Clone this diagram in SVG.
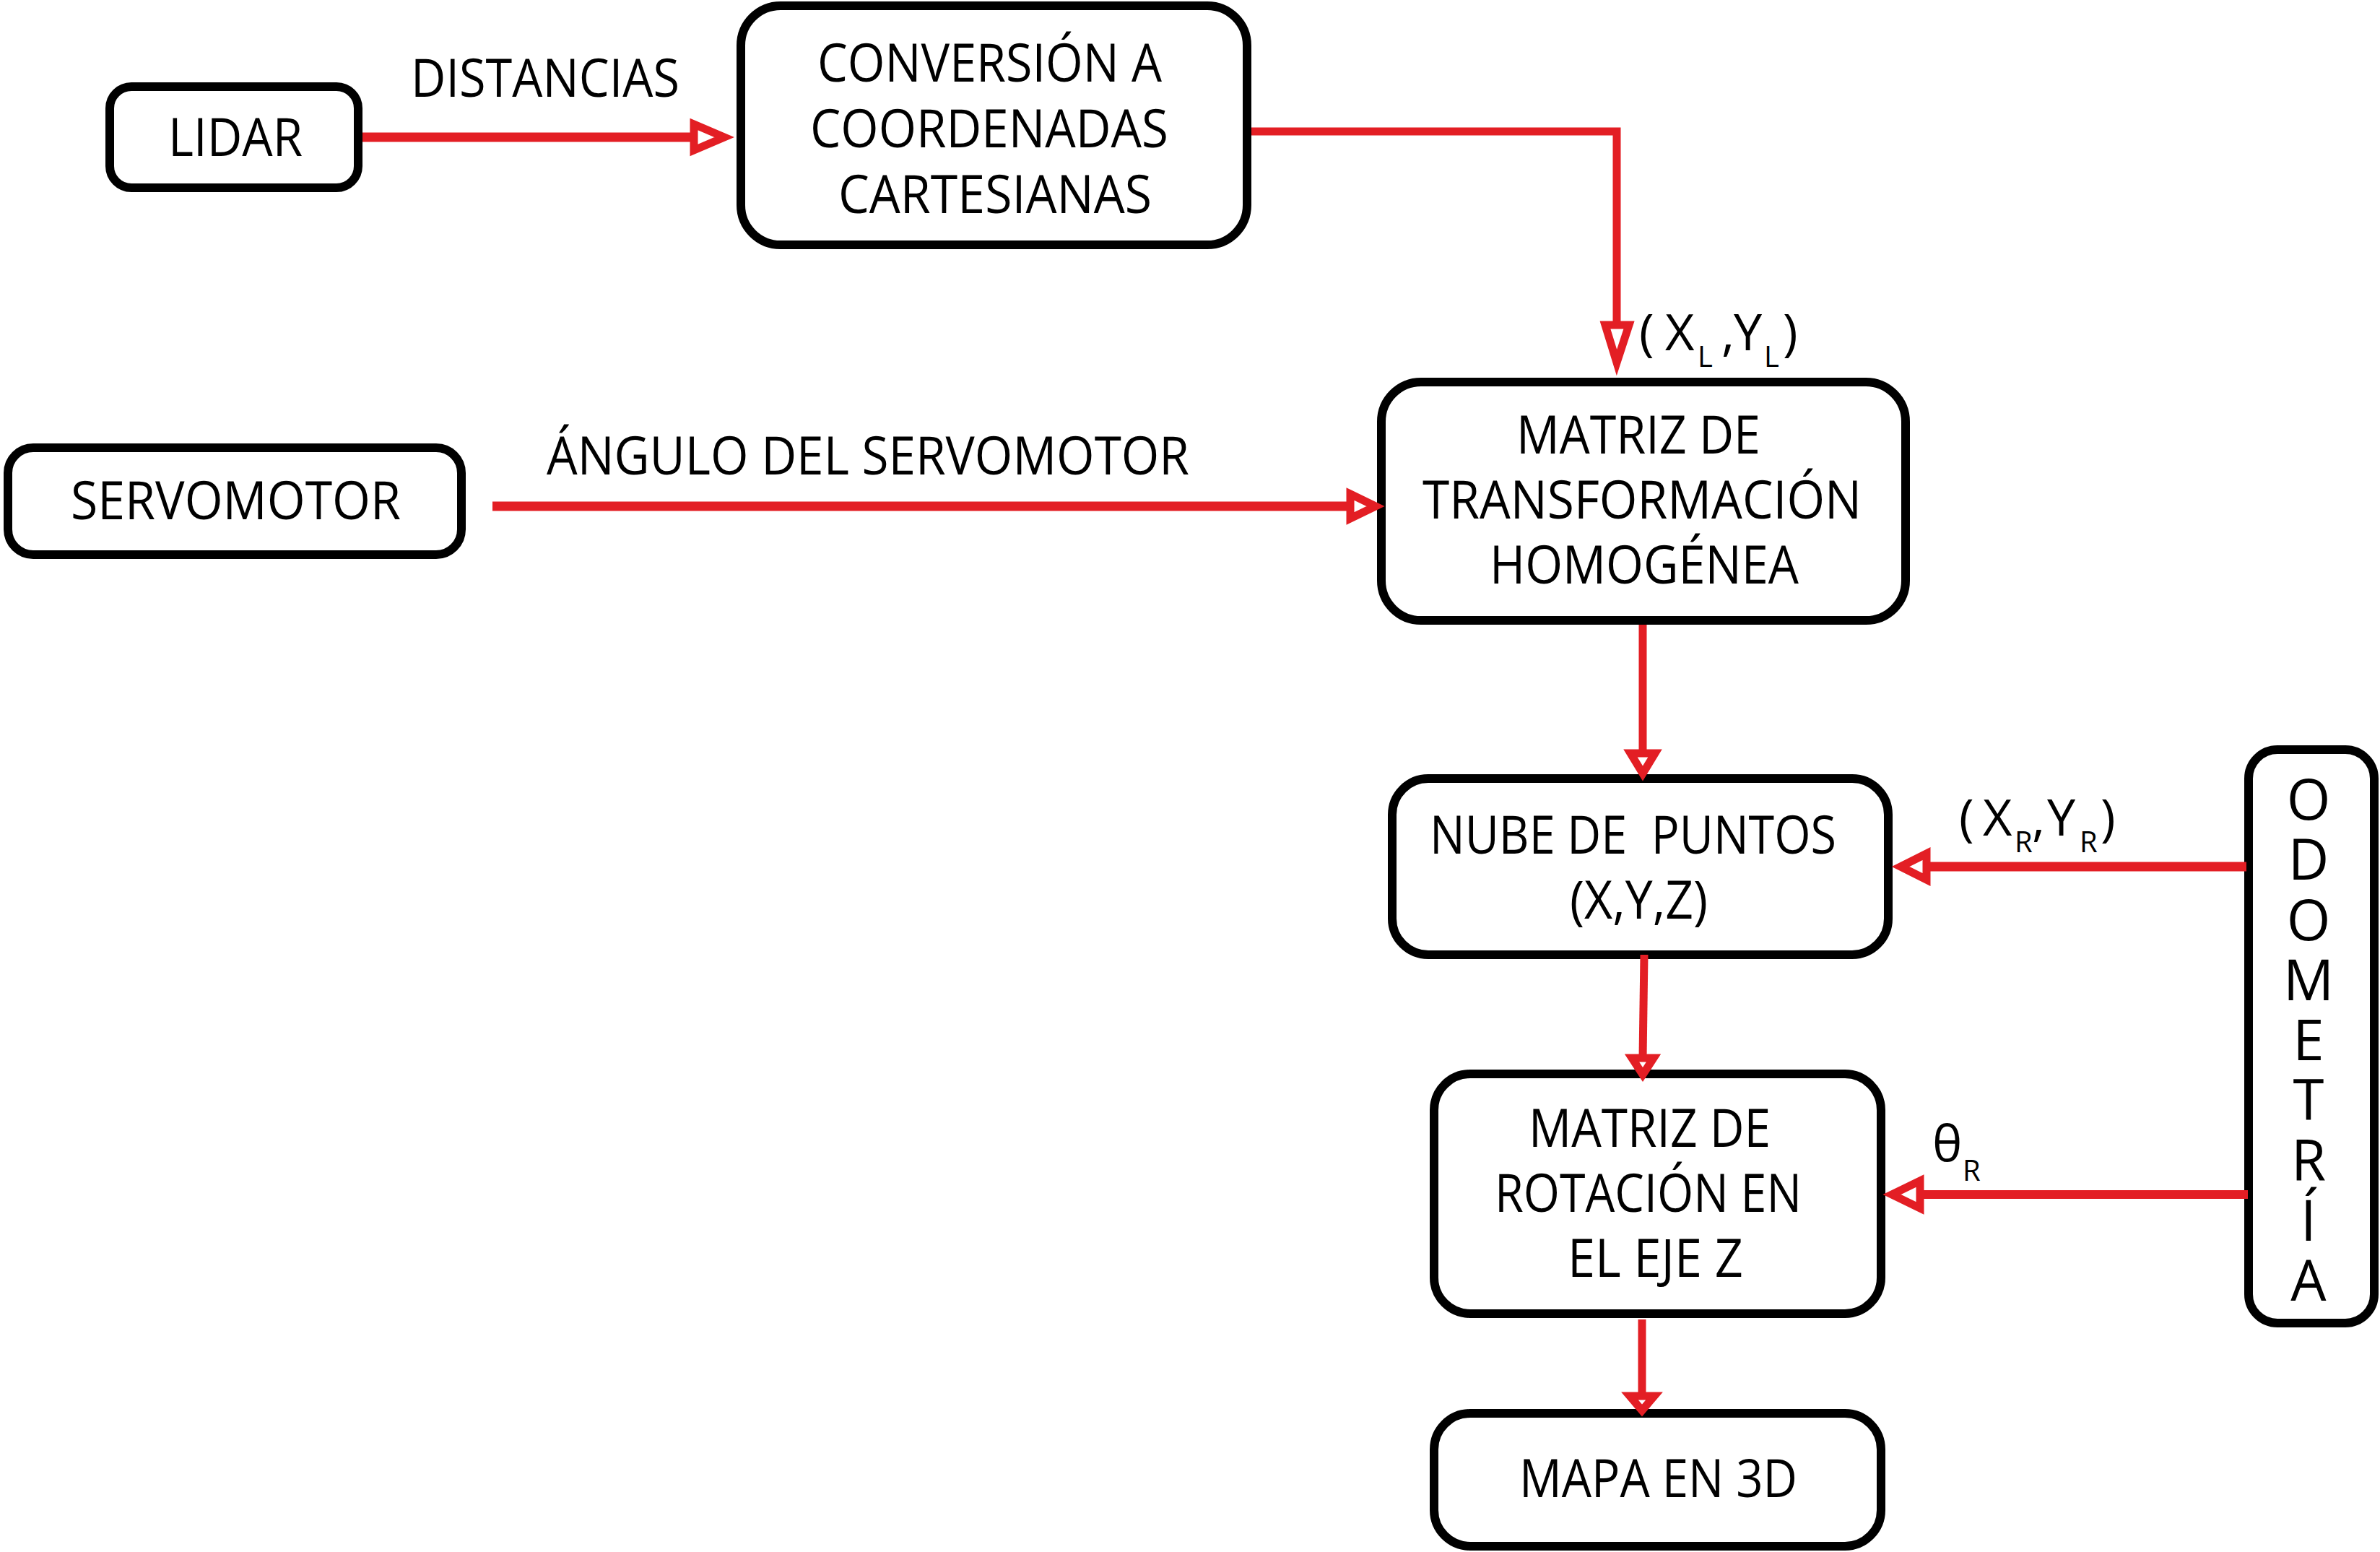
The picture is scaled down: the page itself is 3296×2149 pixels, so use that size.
<svg xmlns="http://www.w3.org/2000/svg" width="3296" height="2149" viewBox="0 0 3296 2149">
<style>
.box{fill:#fff;stroke:#000;stroke-width:12}
.t{font-family:"Open Sans","Liberation Sans",sans-serif;font-size:73px;fill:#000}
.lbl{font-family:"Open Sans","Liberation Sans",sans-serif;font-size:70px;fill:#000}
.sub{font-size:40px}
.odo{font-family:"Open Sans","Liberation Sans",sans-serif;font-size:78px;fill:#000;writing-mode:vertical-rl;text-orientation:upright}
.ln{fill:none;stroke:#E31E24;stroke-width:12;stroke-linejoin:miter}
.head{fill:#fff;stroke:#E31E24;stroke-width:11;stroke-linejoin:miter}
</style>
<rect width="3296" height="2149" fill="#fff"/>
<g id="lidar">
<rect class="box" x="152" y="120" width="344" height="140" rx="30"/>
<text class="t" x="233" y="216" textLength="186" lengthAdjust="spacingAndGlyphs">LIDAR</text>
</g>
<g id="conversion">
<rect class="box" x="1026" y="8" width="701" height="331" rx="55"/>
<text class="t" x="1132" y="113" textLength="477" lengthAdjust="spacingAndGlyphs">CONVERSIÓN A</text>
<text class="t" x="1122" y="204" textLength="496" lengthAdjust="spacingAndGlyphs">COORDENADAS</text>
<text class="t" x="1161" y="295" textLength="434" lengthAdjust="spacingAndGlyphs">CARTESIANAS</text>
</g>
<g id="servomotor">
<rect class="box" x="11" y="620" width="628" height="148" rx="35"/>
<text class="t" x="98" y="719" textLength="457" lengthAdjust="spacingAndGlyphs">SERVOMOTOR</text>
</g>
<g id="matriz-transformacion">
<rect class="box" x="1913" y="529" width="726" height="330" rx="55"/>
<text class="t" x="2100" y="628" textLength="338" lengthAdjust="spacingAndGlyphs">MATRIZ DE</text>
<text class="t" x="1970" y="718" textLength="608" lengthAdjust="spacingAndGlyphs">TRANSFORMACIÓN</text>
<text class="t" x="2063" y="808" textLength="428" lengthAdjust="spacingAndGlyphs">HOMOGÉNEA</text>
</g>
<g id="nube">
<rect class="box" x="1928" y="1078" width="687" height="244" rx="50"/>
<text class="t" x="1980" y="1182" textLength="563" lengthAdjust="spacingAndGlyphs" xml:space="preserve">NUBE DE  PUNTOS</text>
<text class="t" x="2174" y="1272" textLength="191" lengthAdjust="spacingAndGlyphs">(X,Y,Z)</text>
</g>
<g id="matriz-rotacion">
<rect class="box" x="1986" y="1487" width="619" height="332" rx="50"/>
<text class="t" x="2117" y="1588" textLength="335" lengthAdjust="spacingAndGlyphs">MATRIZ DE</text>
<text class="t" x="2070" y="1678" textLength="425" lengthAdjust="spacingAndGlyphs">ROTACIÓN EN</text>
<text class="t" x="2171" y="1768" textLength="243" lengthAdjust="spacingAndGlyphs">EL EJE Z</text>
</g>
<g id="mapa">
<rect class="box" x="1986" y="1957" width="619" height="184" rx="50"/>
<text class="t" x="2104" y="2073" textLength="385" lengthAdjust="spacingAndGlyphs">MAPA EN 3D</text>
</g>
<g id="odometria">
<rect class="box" x="3114" y="1038" width="174" height="794" rx="40"/>
<text class="odo" x="3197" y="1052" textLength="772" lengthAdjust="spacing">ODOMETRÍA</text>
</g>
<g id="connectors">
<line class="ln" x1="502" y1="190" x2="962" y2="190" style="stroke-width:13"/>
<polygon class="head" points="961,172 1003,190 961,208"/>
<line class="ln" x1="682" y1="701" x2="1868" y2="701" style="stroke-width:13"/>
<polygon class="head" points="1870,684 1905,701 1870,718"/>
<polyline class="ln" points="1733,182 2239,182 2239,452" style="stroke-width:11"/>
<polygon class="head" points="2223,450 2256,450 2239,502"/>
<line class="ln" x1="2275" y1="865" x2="2275" y2="1042" style="stroke-width:11"/>
<polygon class="head" points="2258,1043 2292,1043 2275,1071"/>
<line class="ln" x1="2277" y1="1322" x2="2275" y2="1465" style="stroke-width:11"/>
<polygon class="head" points="2260,1465 2290,1465 2275,1488"/>
<line class="ln" x1="2274" y1="1827" x2="2274" y2="1933" style="stroke-width:11"/>
<polygon class="head" points="2257,1933 2291,1933 2274,1953"/>
<line class="ln" x1="3111" y1="1200" x2="2668" y2="1200" style="stroke-width:13"/>
<polygon class="head" points="2668,1182 2668,1218 2632,1200"/>
<line class="ln" x1="3113" y1="1654" x2="2660" y2="1654" style="stroke-width:12"/>
<polygon class="head" points="2659,1635 2659,1673 2620,1654"/>
</g>
<g id="labels">
<text class="t" x="569" y="134" textLength="372" lengthAdjust="spacingAndGlyphs">DISTANCIAS</text>
<text class="t" x="757" y="657" textLength="890" lengthAdjust="spacingAndGlyphs">ÁNGULO DEL SERVOMOTOR</text>
<text class="lbl" y="485"><tspan x="2270">(</tspan><tspan x="2306">X</tspan><tspan class="sub" x="2351" y="508">L</tspan><tspan x="2384" y="485">,</tspan><tspan x="2401">Y</tspan><tspan class="sub" x="2443" y="508">L</tspan><tspan x="2469" y="485">)</tspan></text>
<text class="lbl" y="1157"><tspan x="2713">(</tspan><tspan x="2746">X</tspan><tspan class="sub" x="2790" y="1180">R</tspan><tspan x="2814" y="1157">,</tspan><tspan x="2835">Y</tspan><tspan class="sub" x="2880" y="1180">R</tspan><tspan x="2909" y="1157">)</tspan></text>
<text class="lbl" y="1608"><tspan x="2676">θ</tspan><tspan class="sub" x="2718" y="1635">R</tspan></text>
</g>
</svg>
